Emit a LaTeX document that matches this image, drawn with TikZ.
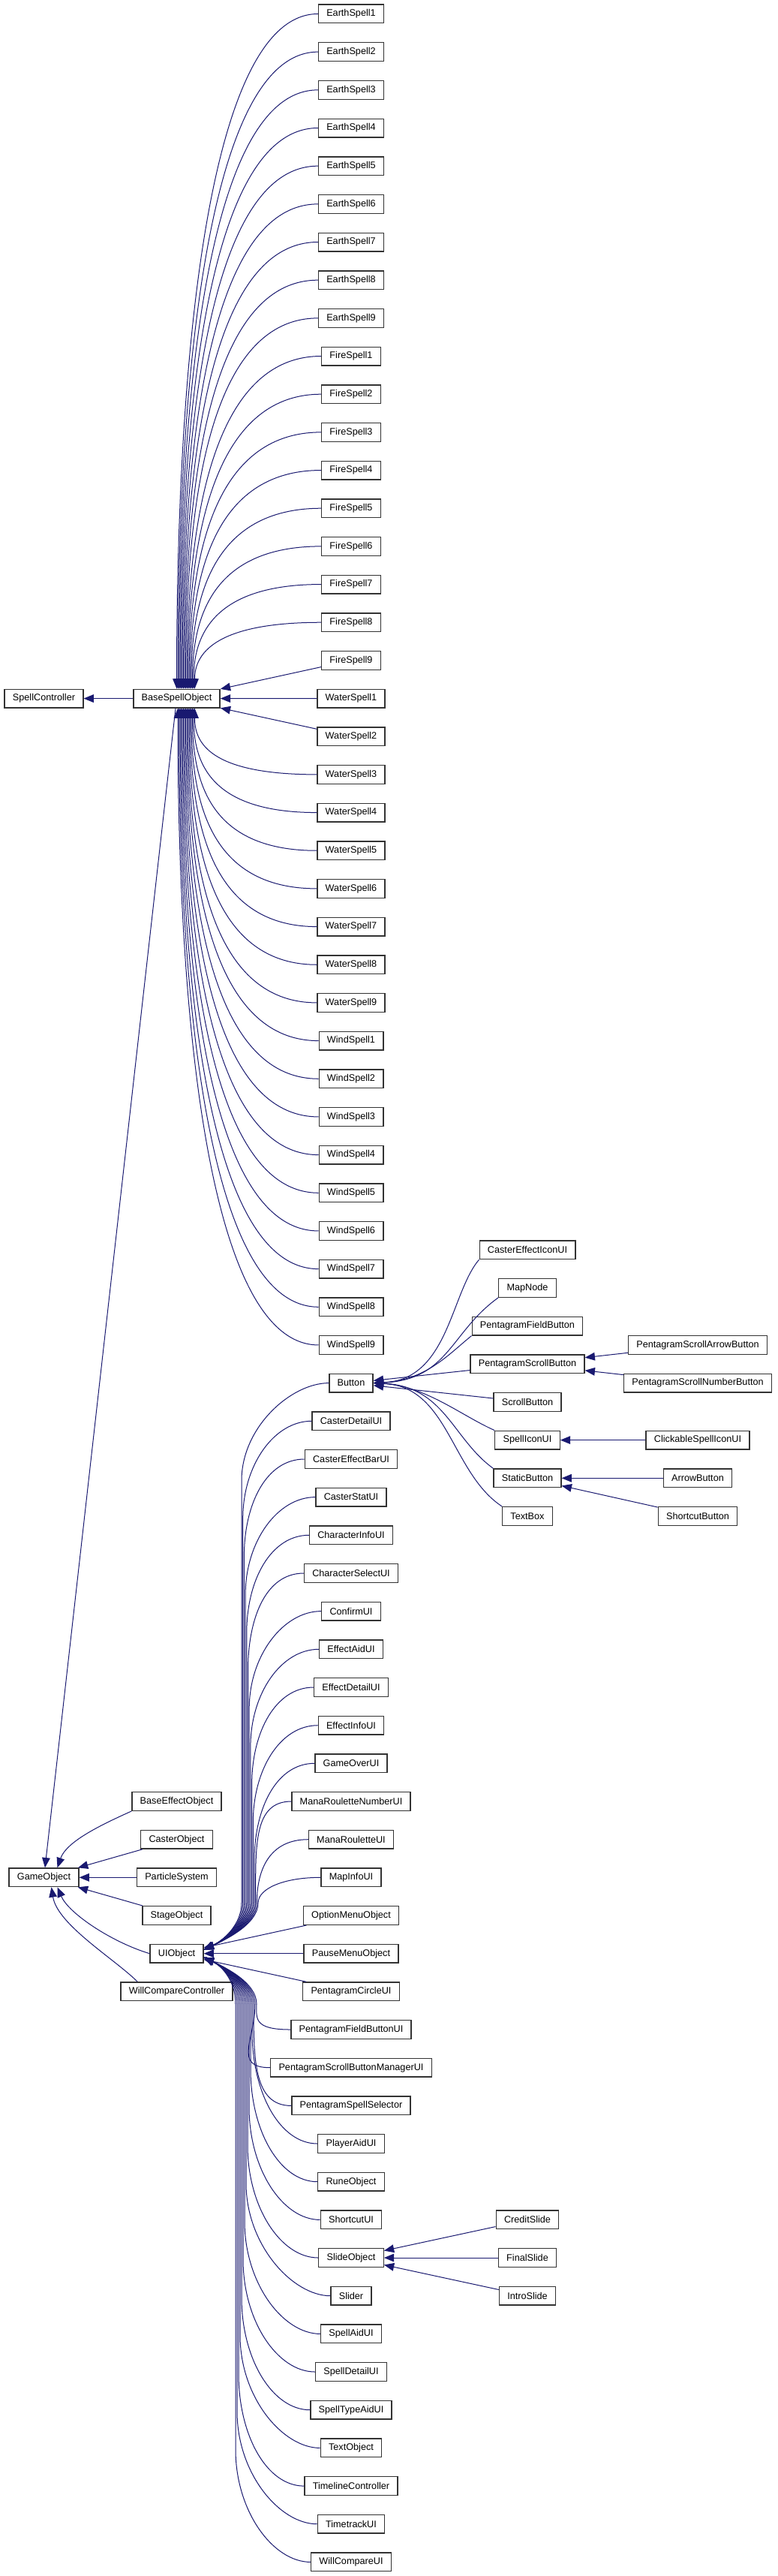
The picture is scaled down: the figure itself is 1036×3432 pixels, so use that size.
\documentclass[tikz,border=0pt]{standalone}
\usepackage{fontspec}
\setmainfont{Liberation Sans}
\definecolor{edgeblue}{RGB}{25,25,112}
\usetikzlibrary{arrows.meta}

\begin{document}
\begin{tikzpicture}[x=0.75pt, y=-0.75pt,
  cls/.style={draw=black!80, line width=1pt, fill=white, inner xsep=8.1pt, inner ysep=0pt, minimum height=18.5pt, font=\fontsize{9.5}{11}\selectfont},
  inh/.style={draw=edgeblue, line width=0.75pt, {Triangle[length=10pt,width=8pt]}-}
]
  \path[use as bounding box, fill=white] (0,0) rectangle (1036,3432);

  % left columns
  \node[cls] (spc) at (58.5,930.6) {SpellController};
  \node[cls] (bso) at (235.5,930.6) {BaseSpellObject};
  \node[cls] (gobj) at (58.5,2501.3) {GameObject};
  \node[cls] (beo) at (235.5,2400.0) {BaseEffectObject};
  \node[cls] (co) at (235.5,2450.7) {CasterObject};
  \node[cls] (ps) at (235.5,2501.3) {ParticleSystem};
  \node[cls] (so) at (235.5,2552.0) {StageObject};
  \node[cls] (uio) at (235.5,2602.7) {UIObject};
  \node[cls] (wcc) at (235.5,2653.3) {WillCompareController};

  % spells
  \foreach \k in {1,...,9}{
    \node[cls] (earth\k) at (468,{18.5+50.67*(\k-1)}) {EarthSpell\k};
    \node[cls] (fire\k) at (468,{18.5+50.67*(\k+8)}) {FireSpell\k};
    \node[cls] (water\k) at (468,{18.5+50.67*(\k+17)}) {WaterSpell\k};
    \node[cls] (wind\k) at (468,{18.5+50.67*(\k+26)}) {WindSpell\k};
  }

  % UIObject subclasses
  \node[cls] (btn) at (468,1842.6) {Button};
  \node[cls] (cdui) at (468,1893.3) {CasterDetailUI};
  \node[cls] (cebui) at (468,1944.0) {CasterEffectBarUI};
  \node[cls] (csui) at (468,1994.6) {CasterStatUI};
  \node[cls] (ciui) at (468,2045.3) {CharacterInfoUI};
  \node[cls] (chsui) at (468,2096.0) {CharacterSelectUI};
  \node[cls] (cfui) at (468,2146.6) {ConfirmUI};
  \node[cls] (eaui) at (468,2197.3) {EffectAidUI};
  \node[cls] (edui) at (468,2248.0) {EffectDetailUI};
  \node[cls] (eiui) at (468,2298.7) {EffectInfoUI};
  \node[cls] (goui) at (468,2349.3) {GameOverUI};
  \node[cls] (mrnui) at (468,2400.0) {ManaRouletteNumberUI};
  \node[cls] (mrui) at (468,2450.7) {ManaRouletteUI};
  \node[cls] (miui) at (468,2501.3) {MapInfoUI};
  \node[cls] (omo) at (468,2552.0) {OptionMenuObject};
  \node[cls] (pmo) at (468,2602.7) {PauseMenuObject};
  \node[cls] (pcui) at (468,2653.3) {PentagramCircleUI};
  \node[cls] (pfbui) at (468,2704.0) {PentagramFieldButtonUI};
  \node[cls] (psbmui) at (468,2754.7) {PentagramScrollButtonManagerUI};
  \node[cls] (pss) at (468,2805.4) {PentagramSpellSelector};
  \node[cls] (paui) at (468,2856.0) {PlayerAidUI};
  \node[cls] (rune) at (468,2906.7) {RuneObject};
  \node[cls] (scui) at (468,2957.4) {ShortcutUI};
  \node[cls] (slide) at (468,3008.0) {SlideObject};
  \node[cls] (slider) at (468,3058.7) {Slider};
  \node[cls] (saui) at (468,3109.4) {SpellAidUI};
  \node[cls] (sdui) at (468,3160.0) {SpellDetailUI};
  \node[cls] (staui) at (468,3210.7) {SpellTypeAidUI};
  \node[cls] (txt) at (468,3261.4) {TextObject};
  \node[cls] (tlc) at (468,3312.1) {TimelineController};
  \node[cls] (ttui) at (468,3362.7) {TimetrackUI};
  \node[cls] (wcui) at (468,3413.4) {WillCompareUI};

  % Button subclasses
  \node[cls] (ceiui) at (703,1665.2) {CasterEffectIconUI};
  \node[cls] (mapn) at (703,1715.9) {MapNode};
  \node[cls] (pfb) at (703,1766.6) {PentagramFieldButton};
  \node[cls] (psb) at (703,1817.3) {PentagramScrollButton};
  \node[cls] (scb) at (703,1867.9) {ScrollButton};
  \node[cls] (siui) at (703,1918.6) {SpellIconUI};
  \node[cls] (stb) at (703,1969.3) {StaticButton};
  \node[cls] (tbox) at (703,2019.9) {TextBox};
  \node[cls] (psab) at (930,1791.9) {PentagramScrollArrowButton};
  \node[cls] (psnb) at (930,1842.6) {PentagramScrollNumberButton};
  \node[cls] (csiui) at (930,1918.6) {ClickableSpellIconUI};
  \node[cls] (arrb) at (930,1969.3) {ArrowButton};
  \node[cls] (shb) at (930,2019.9) {ShortcutButton};

  % SlideObject subclasses
  \node[cls] (credit) at (703,2957.4) {CreditSlide};
  \node[cls] (final) at (703,3008.0) {FinalSlide};
  \node[cls] (intro) at (703,3058.7) {IntroSlide};

  % inheritance: spells
  \draw[inh] (spc) -- (bso);
  \draw[inh] (bso) -- (fire9);
  \draw[inh] (bso) -- (water1);
  \draw[inh] (bso) -- (water2);
  \foreach \fam/\off in {earth/0,fire/9,water/18,wind/27}{
    \foreach \k in {1,...,9}{
      \pgfmathtruncatemacro\r{\off+\k-1}
      \ifnum\r<17
        \pgfmathsetmacro\h{50.67*(18-\r)-12.5}
        \pgfmathsetmacro\sx{1.5*\r}
        \draw[inh] ([shift={(\sx,0)}]bso.north) .. controls +(0,{-0.5*\h}) and +(-145,0) .. (\fam\k.west);
      \fi
      \ifnum\r>19
        \pgfmathsetmacro\h{50.67*(\r-18)-12.5}
        \pgfmathsetmacro\sx{1.5*(36-\r)}
        \draw[inh] ([shift={(\sx,0)}]bso.south) .. controls +(0,{0.5*\h}) and +(-145,0) .. (\fam\k.west);
      \fi
    }
  }

  % inheritance: GameObject
  \draw[inh] (gobj) -- (bso);
  \draw[inh] ([shift={(18,0)}]gobj.north) .. controls +(12,-35) and +(-40,18) .. (beo.south west);
  \draw[inh] (gobj) -- (co);
  \draw[inh] (gobj) -- (ps);
  \draw[inh] (gobj) -- (so);
  \draw[inh] ([shift={(18,0)}]gobj.south) .. controls +(15,35) and +(-50,-15) .. (uio.west);
  \draw[inh] ([shift={(10,0)}]gobj.south) .. controls +(8,50) and +(-30,-30) .. ([shift={(23,0)}]wcc.north west);

  % inheritance: UIObject
  \draw[inh] (uio) -- (omo);
  \draw[inh] (uio) -- (pmo);
  \draw[inh] (uio) -- (pcui);
  \foreach \cn/\r in {btn/36,cdui/37,cebui/38,csui/39,ciui/40,chsui/41,cfui/42,eaui/43,edui/44,eiui/45,goui/46,mrnui/47,mrui/48,miui/49}{
    \pgfmathsetmacro\yc{18.5+50.67*\r}
    \pgfmathsetmacro\xm{322+1.7*(\r-36)}
    \pgfmathsetmacro\R{min(130,2535-\yc)}
    \pgfmathsetmacro\yn{\yc+\R}
    \draw[inh] ([shift={(0,-5)}]uio.east) .. controls +(25,-12) and +(0,30) .. (\xm,2535) -- (\xm,\yn) .. controls +(0,{-0.55*\R}) and +(-50,0) .. (\cn.west);
  }
  \foreach \cn/\r in {pfbui/53,psbmui/54,pss/55,paui/56,rune/57,scui/58,slide/59,slider/60,saui/61,sdui/62,staui/63,txt/64,tlc/65,ttui/66,wcui/67}{
    \pgfmathsetmacro\yc{18.5+50.67*\r}
    \pgfmathsetmacro\xm{314+2*(67-\r)}
    \pgfmathsetmacro\R{min(150,\yc-2670)}
    \pgfmathsetmacro\yn{\yc-\R}
    \draw[inh] ([shift={(0,5)}]uio.east) .. controls +(25,12) and +(0,-30) .. (\xm,2670) -- (\xm,\yn) .. controls +(0,{0.55*\R}) and +(-50,0) .. (\cn.west);
  }

  % inheritance: Button
  \draw[inh] (btn.east) .. controls +(100,-4) and +(-38,45) .. (ceiui.south west);
  \draw[inh] (btn.east) .. controls +(100,-4) and +(-64,46) .. (mapn.south west);
  \draw[inh] (btn.east) .. controls +(70,-4) and +(-32,26) .. (pfb.south west);
  \draw[inh] (btn) -- (psb);
  \draw[inh] (btn) -- (scb);
  \draw[inh] (btn.east) .. controls +(70,4) and +(-45,-20) .. (siui.north west);
  \draw[inh] (btn.east) .. controls +(95,4) and +(-55,-40) .. (stb.north west);
  \draw[inh] (btn.east) .. controls +(100,4) and +(-68,-45) .. (tbox.north west);
  \draw[inh] (psb) -- (psab);
  \draw[inh] (psb) -- (psnb);
  \draw[inh] (siui) -- (csiui);
  \draw[inh] (stb) -- (arrb);
  \draw[inh] (stb) -- (shb);

  % inheritance: SlideObject
  \draw[inh] (slide) -- (credit);
  \draw[inh] (slide) -- (final);
  \draw[inh] (slide) -- (intro);
\end{tikzpicture}
\end{document}
